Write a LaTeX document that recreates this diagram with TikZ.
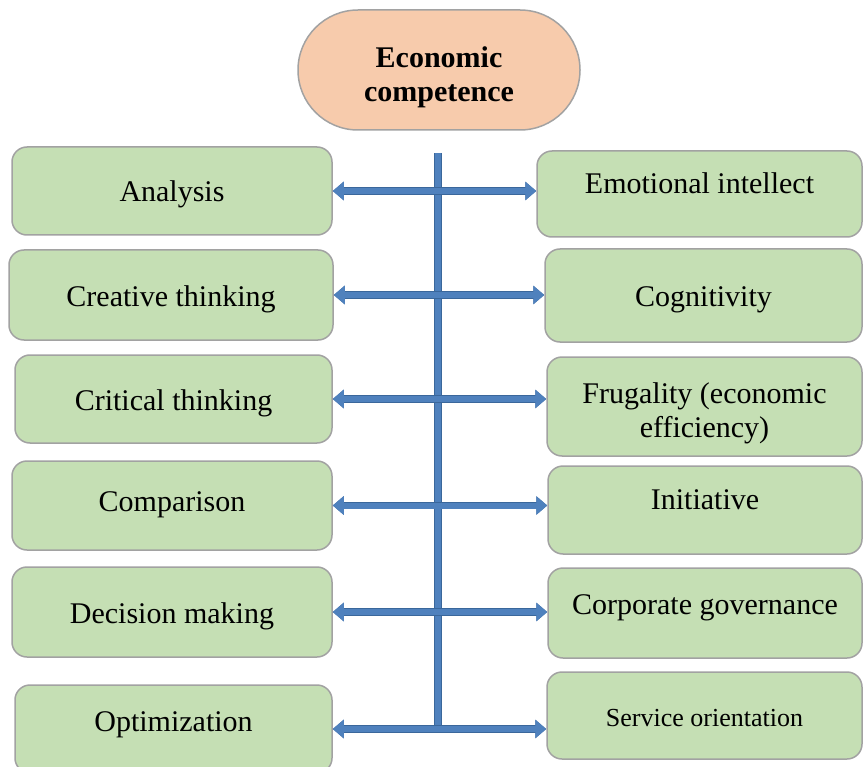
\documentclass[tikz,border=0pt]{standalone}
\usepackage{fontspec}
\setmainfont{Liberation Serif}
\usetikzlibrary{arrows.meta}
\definecolor{boxgreen}{HTML}{C5DFB4}
\definecolor{boxedge}{HTML}{A2A2A2}
\definecolor{peach}{HTML}{F7CBAC}
\definecolor{linkblue}{HTML}{4F81BD}
\definecolor{linkedge}{HTML}{3A679B}
\begin{document}
\begin{tikzpicture}[x=1pt,y=-1pt,>={Triangle[length=11pt,width=18pt]}]
      \tikzset{box/.style={draw=boxedge, line width=1.5pt, fill=boxgreen, rounded corners=15pt, align=center,
                           font=\fontsize{30}{34}\selectfont},
               item/.style={box, text height=29pt, text depth=#1},
               item/.default=7pt,
               link/.style={<->, draw=linkblue, line width=6pt, preaction={draw=linkedge, line width=7.5pt}}}
      \useasboundingbox (0,0) rectangle (864,767);
      \node[draw=boxedge, line width=1.5pt, fill=peach, rounded corners=60pt, minimum width=282pt, minimum height=120pt,
            align=center, text height=69pt, font=\bfseries\fontsize{30}{34}\selectfont] (eco) at (439,70) {Economic\\competence};
      % left column
      \node[item, minimum width=320pt, minimum height=88pt] (ana) at (172,191) {Analysis};
      \node[item, minimum width=324pt, minimum height=90pt] (cre) at (171,295) {Creative thinking};
      \node[item, minimum width=317pt, minimum height=88pt] (cri) at (173.5,399) {Critical thinking};
      \node[item=17pt, minimum width=320pt, minimum height=89pt] (com) at (172,505.5) {Comparison};
      \node[item, minimum width=320pt, minimum height=90pt] (dec) at (172,612) {Decision making};
      \node[item=25pt, minimum width=317pt, minimum height=88pt] (opt) at (173.5,729) {Optimization};
      % right column
      \node[item=29pt, minimum width=325pt, minimum height=86pt] (emo) at (699.5,194) {Emotional intellect};
      \node[item, minimum width=317pt, minimum height=93pt] (cog) at (703.5,295.5) {Cognitivity};
      \node[box, text height=69pt, minimum width=315pt, minimum height=99pt] (fru) at (704.5,406.5) {Frugality (economic\\efficiency)};
      \node[item=31pt, minimum width=314pt, minimum height=88pt] (ini) at (705,510) {Initiative};
      \node[item=27pt, minimum width=314pt, minimum height=90pt] (gov) at (705,613) {Corporate governance};
      \node[item, minimum width=315pt, minimum height=87pt, font=\fontsize{26}{30}\selectfont] (ser) at (704.5,715.5) {Service orientation};
      % spine and links
      \coordinate (top) at (438,153);
      \draw[draw=linkblue, line width=6pt, preaction={draw=linkedge, line width=7.5pt}] (top) -- (top |- opt.east);
      \draw[link] (ana.east) -- (ana.east -| emo.west);
      \draw[link] (cre.east) -- (cre.east -| cog.west);
      \draw[link] (cri.east) -- (cri.east -| fru.west);
      \draw[link] (com.east) -- (com.east -| ini.west);
      \draw[link] (dec.east) -- (dec.east -| gov.west);
      \draw[link] (opt.east) -- (opt.east -| ser.west);
    \end{tikzpicture}
\end{document}
